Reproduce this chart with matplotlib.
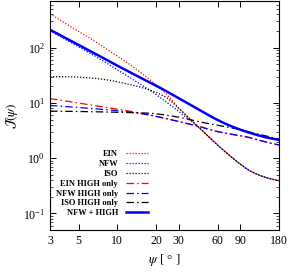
import numpy as np
import matplotlib
matplotlib.use("Agg")
import matplotlib.pyplot as plt
from matplotlib.ticker import FixedLocator, NullFormatter, LogLocator

plt.rcParams['font.family'] = ['Liberation Serif', 'DejaVu Serif']
plt.rcParams['mathtext.fontset'] = 'stix'

psi = [3, 4, 6, 8, 12, 18, 24, 30, 37, 44, 52, 63, 75, 90, 107, 127, 150, 180]

ein = [410, 270, 153, 99, 53, 26, 14.5, 8.0, 5.0, 3.4, 2.35, 1.56, 1.10, 0.78,
       0.59, 0.49, 0.43, 0.39]
nfw = [202, 139, 82, 55, 30.5, 16.8, 10.4, 7.0, 4.8, 3.4, 2.35, 1.56, 1.10, 0.78,
       0.59, 0.49, 0.43, 0.39]
iso = [30, 29.8, 28.5, 26.5, 22, 17, 12.5, 8.0, 5.0, 3.4, 2.35, 1.56, 1.10, 0.78,
       0.59, 0.49, 0.43, 0.39]
ein_high = [12, 10.8, 9.3, 8.4, 7.2, 6.0, 5.2, 4.6, 4.1, 3.7, 3.3, 2.95, 2.75,
            2.55, 2.35, 2.1, 1.9, 1.73]
nfw_high = [9.0, 8.6, 8.0, 7.6, 6.9, 6.0, 5.2, 4.6, 4.1, 3.7, 3.3, 2.95, 2.75,
            2.55, 2.35, 2.1, 1.9, 1.73]
iso_high = [7.1, 7.05, 6.95, 6.85, 6.7, 6.5, 6.0, 5.5, 4.95, 4.5, 4.2, 3.85,
            3.55, 3.3, 2.95, 2.7, 2.45, 2.2]
nfw_plus_high = [211, 148, 90, 62.5, 37.8, 23.3, 16.3, 12.1, 9.2, 7.3, 5.86, 4.64,
                 3.86, 3.28, 2.87, 2.55, 2.32, 2.14]

xticks = [3, 5, 10, 20, 30, 60, 90, 180]
labels = ["EIN", "NFW", "ISO", "EIN HIGH only", "NFW HIGH only",
          "ISO HIGH only", "NFW + HIGH"]


def smooth(x, y, n=300):
    """Monotone cubic (PCHIP) interpolation in log-log space."""
    lx = np.log10(np.asarray(x, float))
    ly = np.log10(np.asarray(y, float))
    xs = np.linspace(lx[0], lx[-1], n)
    h = np.diff(lx)
    d = np.diff(ly) / h
    m = np.zeros_like(ly)
    m[0] = d[0]
    m[-1] = d[-1]
    for i in range(1, len(ly) - 1):
        if d[i - 1] * d[i] <= 0:
            m[i] = 0
        else:
            w1 = 2 * h[i] + h[i - 1]
            w2 = h[i] + 2 * h[i - 1]
            m[i] = (w1 + w2) / (w1 / d[i - 1] + w2 / d[i])
    ys = np.empty_like(xs)
    for j, xv in enumerate(xs):
        k = min(max(np.searchsorted(lx, xv, side='right') - 1, 0), len(lx) - 2)
        t = (xv - lx[k]) / h[k]
        h00 = 2 * t**3 - 3 * t**2 + 1
        h10 = t**3 - 2 * t**2 + t
        h01 = -2 * t**3 + 3 * t**2
        h11 = t**3 - t**2
        ys[j] = (h00 * ly[k] + h10 * h[k] * m[k] + h01 * ly[k + 1]
                 + h11 * h[k] * m[k + 1])
    return 10**xs, 10**ys


fig = plt.figure(figsize=(2.99, 2.72), dpi=100)
ax = fig.add_axes([50/299, 1 - 230/272, 229/299, 229/272])

dot = (0, (1, 1.4))
dd = (0, (6, 2.5, 1.2, 2.5))
series = [
    (ein, 'red', dot, 0.9),
    (nfw, 'blue', dot, 0.9),
    (iso, 'black', dot, 0.9),
    (ein_high, 'red', dd, 0.9),
    (nfw_high, 'blue', dd, 0.9),
    (iso_high, 'black', dd, 0.9),
    (nfw_plus_high, 'blue', '-', 1.8),
]
for (vals, c, ls, lw), lab in zip(series, labels):
    xs, ys = smooth(psi, vals)
    ax.plot(xs, ys, color=c, linestyle=ls, linewidth=lw, label=lab)

ax.set_xscale('log')
ax.set_yscale('log')
ax.set_xlim(3, 180)
ax.set_ylim(0.05, 700)
ax.xaxis.set_major_locator(FixedLocator(xticks))
ax.xaxis.set_minor_locator(FixedLocator([]))
ax.set_xticklabels([str(t) for t in xticks])
ax.yaxis.set_major_locator(LogLocator(base=10, numticks=10))
ax.yaxis.set_minor_locator(LogLocator(base=10, subs=np.arange(2, 10), numticks=20))
ax.yaxis.set_minor_formatter(NullFormatter())
ax.tick_params(which='both', direction='in', top=True, right=True, labelsize=8.5)
ax.tick_params(which='major', length=4, width=0.7)
ax.tick_params(which='minor', length=2, width=0.5)
for s in ax.spines.values():
    s.set_linewidth(0.8)

ax.set_xlabel(r'$\psi$ [ ° ]', fontsize=9.5, labelpad=4)
ax.set_ylabel(r'$\mathcal{J}(\psi)$', fontsize=9.5, labelpad=2)

leg = ax.legend(loc='lower right', bbox_to_anchor=(0.428, 0.056), frameon=False,
                markerfirst=False, prop={'size': 6, 'weight': 'bold'},
                handlelength=2.64, handletextpad=0.96, labelspacing=0.22,
                borderaxespad=0.0, borderpad=0.0)

fig.savefig('out.png', dpi=100)
